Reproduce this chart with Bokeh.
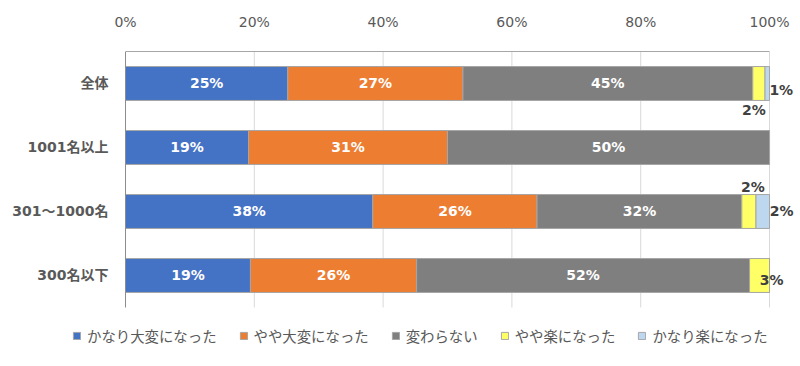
from bokeh.plotting import figure
from bokeh.models import ColumnDataSource, LabelSet, Legend, LegendItem, FixedTicker, Range1d
from bokeh.core.properties import value
from bokeh.embed import file_html
from bokeh.resources import INLINE

categories = ["全体", "1001名以上", "301～1000名", "300名以下"]
series = ["かなり大変になった", "やや大変になった", "変わらない", "やや楽になった", "かなり楽になった"]
v_very_hard = [25.2, 19.1, 38.4, 19.4]
v_bit_hard = [27.2, 30.9, 25.5, 25.8]
v_same = [45.0, 50.0, 31.8, 51.7]
v_bit_easy = [1.9, 0.0, 2.2, 3.1]
v_very_easy = [0.7, 0.0, 2.1, 0.0]
tick_values = [0, 20, 40, 60, 80, 100]
tick_labels = ["0%", "20%", "40%", "60%", "80%", "100%"]
colors = ["#4472C4", "#ED7D31", "#7F7F7F", "#FFFF66", "#BDD7EE"]

keys = ["a", "b", "c", "d", "e"]
values = [v_very_hard, v_bit_hard, v_same, v_bit_easy, v_very_easy]
n = len(categories)
ypos = [n - i - 0.5 for i in range(n)]          # row centres, top row first
data = {"cat": categories, "y": ypos}
for k, v in zip(keys, values):
    data[k] = v
src = ColumnDataSource(data)

LATIN_CJK = "DejaVu Sans, 'Noto Sans CJK JP'"
GRAY = "#595959"

# frame spans the whole canvas below the top axis; 0% at x=125px, 100% at 769px
p = figure(width=796, height=350, output_backend="svg", toolbar_location=None,
           x_range=Range1d(-19.41, 104.19), y_range=Range1d(-0.672, n),
           x_axis_location="above", y_axis_location=None,
           min_border_left=0, min_border_right=0, min_border_top=51, min_border_bottom=0)

# vertical gridlines (limited to the plot area)
p.segment(x0=tick_values[1:], x1=tick_values[1:], y0=0, y1=n,
          line_color="#D9D9D9", line_width=1)

rs = p.hbar_stack(keys, y="y", height=0.53, color=colors, source=src,
                  line_color="#A6A6A6", line_width=1)

# left axis line
p.segment(x0=[tick_values[0]], x1=[tick_values[0]], y0=[0], y1=[n],
          line_color="#8C8C8C", line_width=1)

# category labels
cat_labels = LabelSet(x=tick_values[0], y="y", text="cat", source=src,
                      x_offset=-17, text_align="right", text_baseline="middle",
                      text_color=GRAY, text_font=value(LATIN_CJK),
                      text_font_style="bold", text_font_size="14px")
p.add_layout(cat_labels)

# value labels
lx, ly, lt, lc, xo, yo = [], [], [], [], [], []
outside = {
    (0, 3): (-5, -27), (0, 4): (14, -7),
    (2, 3): (4, 24), (2, 4): (19, 0),
    (3, 3): (12, -5),
}
for i in range(n):
    cum = 0.0
    for j, v in enumerate(values):
        val = v[i]
        if val > 0:
            lx.append(cum + val / 2)
            ly.append(ypos[i])
            lt.append(f"{round(val)}%")
            if (i, j) in outside:
                lc.append("#404040")
                xo.append(outside[(i, j)][0]); yo.append(outside[(i, j)][1])
            else:
                lc.append("white")
                xo.append(0); yo.append(0)
        cum += val
lsrc = ColumnDataSource(dict(x=lx, y=ly, t=lt, c=lc, xo=xo, yo=yo))
labels = LabelSet(x="x", y="y", text="t", source=lsrc, text_color="c",
                  x_offset="xo", y_offset="yo",
                  text_align="center", text_baseline="middle",
                  text_font=value("DejaVu Sans"), text_font_style="bold",
                  text_font_size="14px")
p.add_layout(labels)

# top axis
p.xaxis.ticker = FixedTicker(ticks=tick_values)
p.xaxis.bounds = (tick_values[0], tick_values[-1])
p.xaxis.major_label_overrides = {t: l for t, l in zip(tick_values, tick_labels)}
p.xaxis.major_tick_line_color = None
p.xaxis.minor_tick_line_color = None
p.xaxis.axis_line_color = "#A6A6A6"
p.xaxis.major_label_text_color = GRAY
p.xaxis.major_label_text_font = LATIN_CJK
p.xaxis.major_label_text_font_size = "14px"
p.xaxis.major_label_standoff = 16

p.xgrid.grid_line_color = None
p.ygrid.grid_line_color = None
p.outline_line_color = None

legend = Legend(items=[LegendItem(label=s, renderers=[r]) for s, r in zip(series, rs)],
                orientation="horizontal", location=(72, 4),
                padding=0, margin=0, spacing=22, label_standoff=6,
                glyph_width=9, glyph_height=9, label_height=18,
                label_text_font="Noto Sans CJK JP", label_text_font_size="14.4px",
                label_text_color=GRAY, border_line_color=None,
                background_fill_alpha=0)
p.add_layout(legend, "center")

open("out.html", "w").write(file_html(p, INLINE))
